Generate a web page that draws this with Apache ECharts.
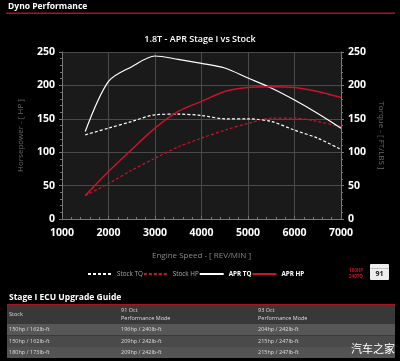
<!DOCTYPE html>
<html><head><meta charset="utf-8">
<script src="https://cdn.jsdelivr.net/npm/echarts@6/dist/echarts.min.js"></script>
<style>html,body{margin:0;padding:0;background:#000;}#c{width:400px;height:361px;}</style>
</head><body><div id="c"></div>
<script>
const rpm = [1500, 2000, 2500, 3000, 3500, 4000, 4500, 5000, 5500, 6000, 6500, 7000];
const stockTQ = [126, 136, 146, 156, 157, 155, 150, 150, 146, 133, 121, 104];
const stockHP = [35, 53, 73, 91, 108, 121, 133, 143, 151, 151, 146, 138];
const aprTQ = [131, 206, 228, 244, 239, 233, 226, 211, 196, 178, 158, 136];
const aprHP = [35, 71, 104, 136, 161, 176, 191, 197, 198, 197, 191, 182];
const tableHeader = ["Stock", "91 Oct\nPerformance Mode", "93 Oct\nPerformance Mode"];
const tableRows = [
  ["150hp / 162lb-ft", "196hp / 240lb-ft", "204hp / 242lb-ft"],
  ["150hp / 162lb-ft", "209hp / 242lb-ft", "215hp / 247lb-ft"],
  ["180hp / 173lb-ft", "209hp / 242lb-ft", "215hp / 247lb-ft"]
];

const pairs = arr => rpm.map((r, i) => [r, arr[i]]);
const RED = '#c8142a';
const FONT = '"Open Sans", sans-serif';

const chart = echarts.init(document.getElementById('c'), null, {renderer: 'canvas'});

const colX = [9, 121, 258];
const rowY = [324, 335.5, 347, 358];
const rowBg = ['#575757', '#4a4a4a', '#535353'];
const gfx = [
  {type: 'text', left: 8, top: 2.5, style: {text: 'Dyno Performance', fill: '#fff', font: 'bold 8.5px ' + FONT}},
  {type: 'rect', shape: {x: 6, y: 12.5, width: 389, height: 1.5}, style: {fill: '#b01020'}},
  {type: 'text', left: 9, top: 293.5, style: {text: 'Stage I ECU Upgrade Guide', fill: '#fff', font: 'bold 8.5px ' + FONT}},
  {type: 'rect', shape: {x: 7, y: 304, width: 388, height: 20}, style: {fill: '#383838'}},
  {type: 'rect', shape: {x: 7, y: 304, width: 388, height: 1.3}, style: {fill: '#b01020'}}
];
tableHeader.forEach((h, c) => {
  gfx.push({type: 'text', x: colX[c], y: 314.5, style: {text: h, fill: '#ddd', font: '5.5px ' + FONT, verticalAlign: 'middle', lineHeight: 8}});
});
tableRows.forEach((row, r) => {
  gfx.push({type: 'rect', shape: {x: 7, y: rowY[r], width: 388, height: rowY[r + 1] - rowY[r]}, style: {fill: rowBg[r]}});
  row.forEach((v, c) => {
    gfx.push({type: 'text', x: colX[c], y: (rowY[r] + rowY[r + 1]) / 2, style: {text: v, fill: '#ddd', font: '5.5px ' + FONT, verticalAlign: 'middle'}});
  });
});
gfx.push({type: 'text', x: 349, y: 268, style: {text: '180HP', fill: '#d0102a', font: 'bold 4.5px ' + FONT}});
gfx.push({type: 'text', x: 349, y: 274, style: {text: '240TQ', fill: '#d0102a', font: 'bold 4.5px ' + FONT}});
gfx.push({type: 'rect', shape: {x: 370, y: 264, width: 19, height: 16, r: 1}, style: {fill: '#eee'}});
gfx.push({type: 'text', x: 379.5, y: 274, style: {text: '91', fill: '#111', font: 'bold 7px ' + FONT, align: 'center', verticalAlign: 'middle'}});
gfx.push({type: 'text', x: 379.5, y: 267, style: {text: 'PERFORMANCE', fill: '#666', font: '2.5px ' + FONT, align: 'center'}});
gfx.push({type: 'text', right: 5, top: 343, style: {text: '汽车之家', fill: '#fff', font: '11px "Noto Sans CJK SC"'}});

const lineSeries = (name, data, color, dashed, w) => ({
  name, type: 'line', data: pairs(data), smooth: 0.3, symbol: 'none',
  lineStyle: {color, width: w, type: dashed ? [3, 2] : 'solid'},
  itemStyle: {color}
});

chart.setOption({
  backgroundColor: '#000',
  animation: false,
  textStyle: {fontFamily: FONT},
  title: {text: '1.8T - APR Stage I vs Stock', left: 'center', top: 30, textStyle: {color: '#fff', fontSize: 9, fontWeight: 600, fontFamily: FONT}},
  graphic: gfx,
  legend: {
    show: true, orient: 'horizontal', left: 87, top: 271, bottom: 'auto', right: 'auto',
    itemWidth: 24, itemHeight: 6, itemGap: 0, padding: 0,
    data: ['Stock TQ', 'Stock HP', 'APR TQ', 'APR HP'],
    selectedMode: false,
    itemStyle: {opacity: 0, borderWidth: 0},
    formatter: n => n.indexOf('APR') === 0 ? '{a|' + n + '}' : '{s|' + n + '}',
    textStyle: {
      fontFamily: FONT, fontSize: 6,
      rich: {
        s: {color: '#aaa', fontSize: 6.3, width: 35, fontFamily: FONT},
        a: {color: '#fff', fontSize: 6.3, fontWeight: 'bold', width: 35, fontFamily: FONT}
      }
    }
  },
  grid: {left: 62, right: 59, top: 52, bottom: 142, show: true, backgroundColor: '#1a1a1a', borderWidth: 0},
  xAxis: {
    type: 'value', min: 1000, max: 7000, interval: 1000,
    name: 'Engine Speed - [ REV/MIN ]', nameLocation: 'middle', nameGap: 33,
    nameTextStyle: {color: '#888', fontSize: 8, fontFamily: FONT},
    axisLine: {show: true, lineStyle: {color: '#777'}},
    axisTick: {show: true, inside: true, length: 3, lineStyle: {color: '#777'}},
    minorTick: {show: true, splitNumber: 5, length: 2, lineStyle: {color: '#777'}},
    axisLabel: {color: '#fff', fontSize: 10.5, fontWeight: 'bold', fontFamily: FONT, margin: 9, formatter: v => String(v)},
    splitLine: {show: true, lineStyle: {color: '#4a4a4a'}}
  },
  yAxis: [{
    type: 'value', min: 0, max: 250, interval: 50, position: 'left',
    name: 'Horsepower - [ HP ]', nameLocation: 'middle', nameGap: 37, nameRotate: 90,
    nameTextStyle: {color: '#666', fontSize: 8, fontFamily: FONT},
    axisLine: {show: true, lineStyle: {color: '#777'}},
    axisTick: {show: true, length: 3, lineStyle: {color: '#777'}},
    minorTick: {show: true, splitNumber: 5, length: 2, lineStyle: {color: '#777'}},
    axisLabel: {color: '#fff', fontSize: 10.5, fontWeight: 'bold', fontFamily: FONT, margin: 7},
    splitLine: {show: true, lineStyle: {color: '#4a4a4a'}}
  }, {
    type: 'value', min: 0, max: 250, interval: 50, position: 'right',
    name: 'Torque - [ FT/LBS ]', nameLocation: 'middle', nameGap: 36, nameRotate: -90,
    nameTextStyle: {color: '#666', fontSize: 8, fontFamily: FONT},
    axisLine: {show: true, lineStyle: {color: '#777'}},
    axisTick: {show: true, length: 3, lineStyle: {color: '#777'}},
    minorTick: {show: true, splitNumber: 5, length: 2, lineStyle: {color: '#777'}},
    axisLabel: {color: '#fff', fontSize: 10.5, fontWeight: 'bold', fontFamily: FONT, margin: 7},
    splitLine: {show: false}
  }],
  series: [
    lineSeries('Stock TQ', stockTQ, '#ffffff', true, 1.2),
    lineSeries('Stock HP', stockHP, RED, true, 1.2),
    lineSeries('APR TQ', aprTQ, '#ffffff', false, 1.2),
    lineSeries('APR HP', aprHP, RED, false, 1.5)
  ]
});
</script></body></html>
